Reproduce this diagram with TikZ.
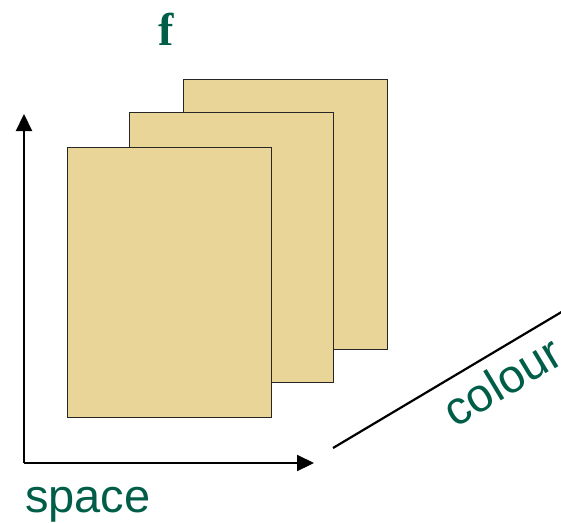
\documentclass[tikz,border=0pt]{standalone}
\usepackage{fontspec}
\setmainfont{Liberation Serif}
\setsansfont{Liberation Sans}
\usetikzlibrary{arrows.meta}
\definecolor{labelgreen}{RGB}{0,94,72}
\definecolor{panelfill}{RGB}{232,213,151}
\tikzset{
  panel/.style={draw=black!85, line width=1.3pt, fill=panelfill, minimum width=204pt, minimum height=270pt, anchor=north west, inner sep=0pt},
  axis/.style={line width=2.2pt, -{Triangle[length=17pt,width=16pt]}},
  biglabel/.style={text=labelgreen, font=\sffamily\fontsize{47}{50}\selectfont, inner sep=0pt}
}
\begin{document}
\begin{tikzpicture}[x=1pt,y=-1pt]
\useasboundingbox (0,0) rectangle (561,522);
\node[panel] (back) at (183,79) {};
\node[panel] (middle) at (129,112) {};
\node[panel] (front) at (67,147) {};
\coordinate (origin) at (24,463);
\coordinate (ytip) at (24,114);
\coordinate (xtip) at (314,463);
\coordinate (cstart) at (333,448);
\coordinate (ctip) at (580,301);
\draw[axis] (origin) -- (ytip);
\draw[axis] (origin) -- (xtip);
\draw[axis] (cstart) -- (ctip);
\node[text=labelgreen, font=\bfseries\fontsize{46}{50}\selectfont, inner sep=0pt, anchor=base] (f) at (166,45) {f};
\node[biglabel, anchor=base west] (space) at (25,512) {space};
\node[biglabel, rotate=31, anchor=center] (colour) at (502,381) {colour};
\end{tikzpicture}
\end{document}
